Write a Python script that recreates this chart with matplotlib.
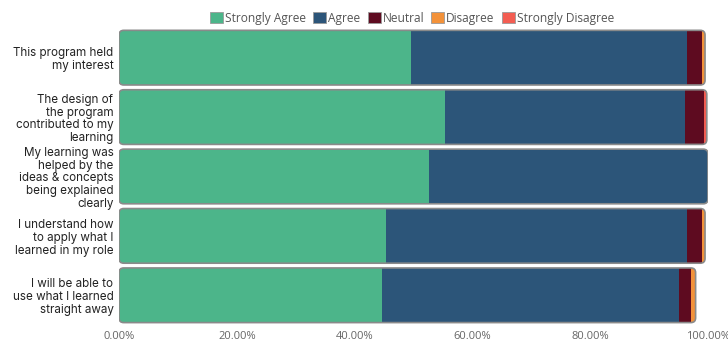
import matplotlib
matplotlib.use("Agg")
from matplotlib import pyplot as plt
from matplotlib.patches import FancyBboxPatch, Patch

plt.rcParams['font.family'] = ['Inter', 'DejaVu Sans']

questions = [
    "This program held\nmy interest",
    "The design of\nthe program\ncontributed to my\nlearning",
    "My learning was\nhelped by the\nideas & concepts\nbeing explained\nclearly",
    "I understand how\nto apply what I\nlearned in my role",
    "I will be able to\nuse what I learned\nstraight away",
]
responses = ["Strongly Agree", "Agree", "Neutral", "Disagree", "Strongly Disagree"]

strongly_agree = [49.5, 55.4, 52.7, 45.4, 44.6]
agree = [46.9, 40.7, 47.3, 51.0, 50.5]
neutral = [2.6, 3.2, 0.0, 2.6, 2.0]
disagree = [0.5, 0.0, 0.0, 0.5, 0.8]
strongly_disagree = [0.0, 0.5, 0.0, 0.0, 0.0]

ticks = [0, 20, 40, 60, 80, 100]
tick_labels = ["0.00%", "20.00%", "40.00%", "60.00%", "80.00%", "100.00%"]

colors = ['#4cb58a', '#2c5579', '#5e0b20', '#f3923a', '#f35d52']
series = [strongly_agree, agree, neutral, disagree, strongly_disagree]

fig = plt.figure(figsize=(7.28, 3.41), dpi=100)
ax = fig.add_axes([0.1635, 0.047, 0.809, 0.871])
ax.set_xlim(0, 100)
ax.set_ylim(4.5, -0.5)

bar_h = 0.92
# pixel aspect so the rounded corners look round
px_x = 100 / (0.809 * 728)
px_y = 5 / (0.871 * 341)
aspect = px_y / px_x

for i, q in enumerate(questions):
    total = sum(s[i] for s in series)
    outline = FancyBboxPatch((0, i - bar_h / 2), total, bar_h,
                             boxstyle="round,pad=0,rounding_size=0.8",
                             mutation_aspect=aspect, facecolor='none',
                             edgecolor='#8a8a8a', linewidth=1.2, zorder=3)
    ax.add_patch(outline)
    left = 0
    for s, c in zip(series, colors):
        if s[i] > 0:
            bars = ax.barh(i, s[i], left=left, height=bar_h, color=c, zorder=2)
            for b in bars:
                b.set_clip_path(outline)
        left += s[i]

ax.set_yticks(range(len(questions)))
ax.set_yticklabels(questions, fontsize=8.4, color='#222222', linespacing=1.1)
ax.set_xticks(ticks)
ax.set_xticklabels(tick_labels, fontsize=8, color='#666666', family='Open Sans')
ax.tick_params(axis='both', length=0, pad=4)
for sp in ax.spines.values():
    sp.set_visible(False)

handles = [Patch(facecolor=c, edgecolor='#9a9a9a', linewidth=0.6) for c in colors]
fig.legend(handles, responses, loc='center', bbox_to_anchor=(0.566, 0.947),
           ncol=5, frameon=False, handlelength=1.1, handleheight=1.1,
           handletextpad=0.15, columnspacing=0.6, labelcolor='#555555',
           prop={'family': 'Open Sans', 'size': 8.6})

fig.savefig("out.png", dpi=100)
